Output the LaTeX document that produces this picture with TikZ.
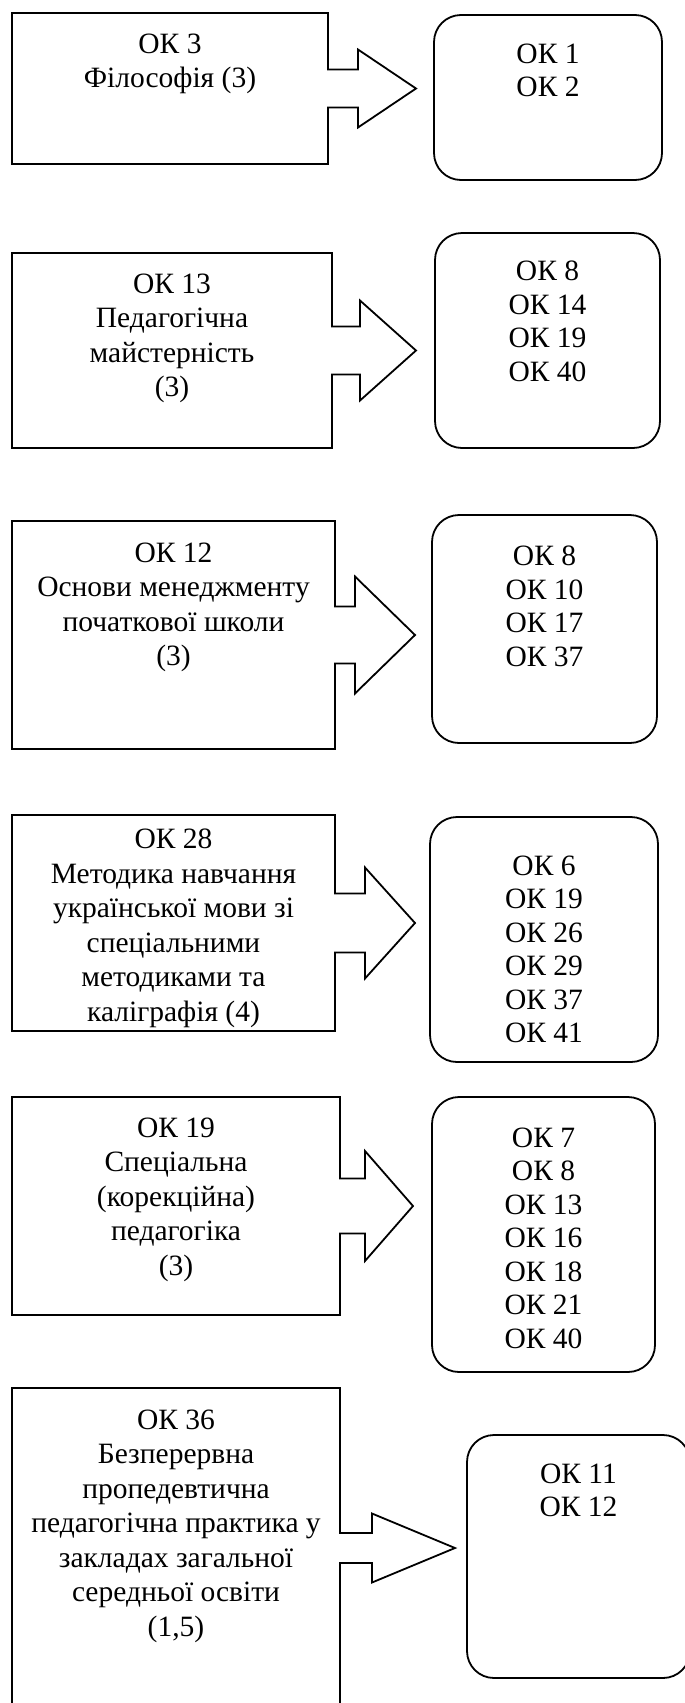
\documentclass[tikz,border=0pt]{standalone}
\usepackage{fontspec}
\setmainfont{Liberation Serif}
\usepackage{tikz}

% box outline merged with its block arrow
% #1 box node, #2 stem length, #3 stem half height, #4 head length, #5 head half height
\newcommand{\arrowout}[5]{%
  \draw[outline] ([yshift=#3]#1.east) |- (#1.north west) |- (#1.south east)
    -- ([yshift=-#3]#1.east) -- ++(#2,0) -- ++(0,#3-#5)
    -- ([xshift=#2+#4]#1.east) -- ([xshift=#2,yshift=#5]#1.east)
    -- ([xshift=#2,yshift=#3]#1.east) -- cycle;}

\begin{document}
\begin{tikzpicture}[
     x = 1pt, y = 1pt, % one unit per pixel
     line join = miter,
     line width = 1.8pt % outline width
 ]

 \tikzstyle{outline} = [draw = black, line width = 1.8pt]
 \tikzstyle{course} = [
     rectangle,
     inner sep = 0pt,
     outer sep = 0pt
 ]
 \tikzstyle{outcome} = [
     draw = black,
     rectangle,
     rounded corners = 27pt,
     inner sep = 0pt,
     outer sep = 0pt
 ]
 \tikzstyle{coursetext} = [
     align = center,
     inner sep = 0pt,
     font = \fontsize{29.5}{34.5}\selectfont
 ]
 \tikzstyle{outcometext} = [
     align = center,
     inner sep = 0pt,
     font = \fontsize{29.5}{33.5}\selectfont
 ]

 \useasboundingbox (0,0) rectangle (685,-1703);

 % courses
 \node[course, minimum width = 316, minimum height = 151] (s1) at (170,-88.5) {};
 \node[course, minimum width = 320, minimum height = 195] (s2) at (172,-350.5) {};
 \node[course, minimum width = 323, minimum height = 228] (s3) at (173.5,-635) {};
 \node[course, minimum width = 323, minimum height = 216] (s4) at (173.5,-923) {};
 \node[course, minimum width = 328, minimum height = 218] (s5) at (176,-1206) {};
 \node[course, minimum width = 328, minimum height = 320] (s6) at (176,-1548) {};

 \node[coursetext, anchor = north] (t1) at ([yshift=-20]s1.north) {ОК 3\\Філософія (3)};
 \node[coursetext, anchor = north] (t2) at ([yshift=-20]s2.north) {ОК 13\\Педагогічна\\майстерність\\(3)};
 \node[coursetext, anchor = north] (t3) at ([yshift=-21]s3.north) {ОК 12\\Основи менеджменту\\початкової школи\\(3)};
 \node[coursetext, anchor = north] (t4) at ([yshift=-13]s4.north) {ОК 28\\Методика навчання\\української мови зі\\спеціальними\\методиками та\\каліграфія (4)};
 \node[coursetext, anchor = north] (t5) at ([yshift=-20]s5.north) {ОК 19\\Спеціальна\\(корекційна)\\педагогіка\\(3)};
 \node[coursetext, anchor = north] (t6) at ([yshift=-21]s6.north) {ОК 36\\Безперервна\\пропедевтична\\педагогічна практика у\\закладах загальної\\середньої освіти\\(1,5)};

 % outcomes
 \node[outcome, minimum width = 228, minimum height = 165] (d1) at (548,-97.5) {};
 \node[outcome, minimum width = 225, minimum height = 215] (d2) at (547.5,-340.5) {};
 \node[outcome, minimum width = 225, minimum height = 228] (d3) at (544.5,-629) {};
 \node[outcome, minimum width = 228, minimum height = 245] (d4) at (544,-939.5) {};
 \node[outcome, minimum width = 223, minimum height = 275] (d5) at (543.5,-1234.5) {};
 \node[outcome, minimum width = 223, minimum height = 243] (d6) at (578.5,-1556.5) {};

 \node[outcometext, anchor = north] (o1) at ([yshift=-28]d1.north) {ОК 1\\ОК 2};
 \node[outcometext, anchor = north] (o2) at ([yshift=-27]d2.north) {ОК 8\\ОК 14\\ОК 19\\ОК 40};
 \node[outcometext, anchor = north] (o3) at ([yshift=-30]d3.north) {ОК 8\\ОК 10\\ОК 17\\ОК 37};
 \node[outcometext, anchor = north] (o4) at ([yshift=-38]d4.north) {ОК 6\\ОК 19\\ОК 26\\ОК 29\\ОК 37\\ОК 41};
 \node[outcometext, anchor = north] (o5) at ([yshift=-30]d5.north) {ОК 7\\ОК 8\\ОК 13\\ОК 16\\ОК 18\\ОК 21\\ОК 40};
 \node[outcometext, anchor = north] (o6) at ([yshift=-28]d6.north) {ОК 11\\ОК 12};

 % boxes with block arrows
 \arrowout{s1}{30}{19}{58}{39}
 \arrowout{s2}{28}{24}{56}{50}
 \arrowout{s3}{20}{28.5}{60}{58.5}
 \arrowout{s4}{30}{29.5}{50}{55.5}
 \arrowout{s5}{25}{27.5}{48}{55}
 \arrowout{s6}{32}{15}{83}{34.5}
\end{tikzpicture}
\end{document}
